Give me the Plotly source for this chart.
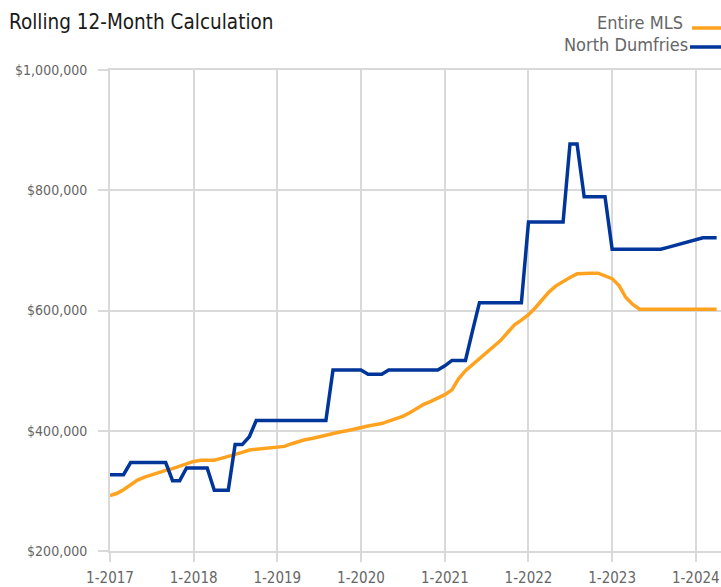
import plotly.graph_objects as go
import pandas as pd

months = pd.date_range("2017-01-01", "2024-04-01", freq="MS")

entire_mls = [292, 296, 302, 310, 318, 323, 327, 331, 334, 337, 341, 345,
              349, 351, 351, 351, 354, 357, 360, 364, 368, 369, 370, 371,
              372, 374, 378, 382, 385, 387, 390, 392, 395, 398, 400, 403,
              405, 408, 410, 412, 416, 420, 424, 430, 437, 444, 449, 454,
              460, 468, 486, 500, 510, 519, 529, 539, 550, 563, 576, 584,
              593, 605, 617, 631, 641, 649, 655, 661, 662, 662, 662, 658,
              653, 641, 622, 610, 602, 602, 602, 602, 602, 602, 602, 602,
              602, 602, 602, 602]

north_dumfries = [327, 327, 327, 347, 347, 347, 347, 347, 347, 317, 317, 338,
                  338, 338, 338, 301, 301, 301, 377, 377, 390, 417, 417, 417,
                  417, 417, 417, 417, 417, 417, 417, 417, 501, 501, 501, 501,
                  501, 494, 494, 494, 501, 501, 501, 501, 501, 501, 501, 501,
                  508, 517, 517, 517, 565, 613, 613, 613, 613, 613, 613, 613,
                  747, 747, 747, 747, 747, 747, 877, 877, 789, 789, 789, 789,
                  702, 702, 702, 702, 702, 702, 702, 702, 705, 708, 711, 715,
                  718, 721, 721, 721]

year_ticks = pd.date_range("2017-01-01", "2024-01-01", freq="YS")
year_labels = [f"1-{d.year}" for d in year_ticks]
y_ticks = [200000, 400000, 600000, 800000, 1000000]
y_labels = ["$200,000", "$400,000", "$600,000", "$800,000", "$1,000,000"]

ORANGE = "#FFA21F"
BLUE = "#00359A"
GRID = "#D9D9D9"
FONT = "DejaVu Sans Condensed, Open Sans, sans-serif"

fig = go.Figure()
fig.add_trace(go.Scatter(x=months, y=[v * 1000 for v in entire_mls], mode="lines",
                         line=dict(color=ORANGE, width=3.5), name="Entire MLS"))
fig.add_trace(go.Scatter(x=months, y=[v * 1000 for v in north_dumfries], mode="lines",
                         line=dict(color=BLUE, width=3.5), name="North Dumfries"))

fig.update_layout(
    width=721, height=587,
    margin=dict(l=110, r=0, t=70, b=36),
    paper_bgcolor="white", plot_bgcolor="white",
    showlegend=False,
    font=dict(family=FONT, color="#666666", size=15),
)
fig.update_xaxes(
    range=["2017-01-01", "2024-04-20"],
    tickvals=list(year_ticks), ticktext=year_labels,
    showgrid=True, gridcolor=GRID, gridwidth=2,
    showline=True, linecolor=GRID, linewidth=2, mirror=True,
    ticks="outside", ticklen=9, tickcolor=GRID, tickwidth=2,
    tickfont=dict(family=FONT, size=15, color="#666666"),
    ticklabelstandoff=3,
    zeroline=False, automargin=False,
)
fig.update_yaxes(
    range=[200000, 1000000],
    tickvals=y_ticks, ticktext=y_labels,
    showgrid=True, gridcolor=GRID, gridwidth=2,
    showline=True, linecolor=GRID, linewidth=2,
    ticks="outside", ticklen=10, tickcolor=GRID, tickwidth=2,
    tickfont=dict(family=FONT, size=14, color="#666666"),
    ticklabelstandoff=8,
    zeroline=False, automargin=False,
)

fig.add_annotation(text="Rolling 12-Month Calculation", xref="paper", yref="paper",
                   x=-103 / 611, y=1 + 48 / 481, xanchor="left", yanchor="middle",
                   showarrow=False, font=dict(family=FONT, size=20.5, color="#1A1A1A"))
fig.add_annotation(text="Entire MLS", xref="paper", yref="paper",
                   x=575 / 611, y=1 + 48 / 481, xanchor="right", yanchor="middle",
                   showarrow=False, font=dict(family=FONT, size=18, color="#666666"))
fig.add_annotation(text="North Dumfries", xref="paper", yref="paper",
                   x=580 / 611, y=1 + 26 / 481, xanchor="right", yanchor="middle",
                   showarrow=False, font=dict(family=FONT, size=18, color="#666666"))
fig.add_shape(type="line", xref="paper", yref="paper", x0=582 / 611, x1=611 / 611,
              y0=1 + 42 / 481, y1=1 + 42 / 481, line=dict(color=ORANGE, width=3.5))
fig.add_shape(type="line", xref="paper", yref="paper", x0=580 / 611, x1=611 / 611,
              y0=1 + 23 / 481, y1=1 + 23 / 481, line=dict(color=BLUE, width=3.5))

fig.write_html("out.html", config={"displayModeBar": False},
               post_script="document.body.style.margin='0';document.body.style.padding='0';")
